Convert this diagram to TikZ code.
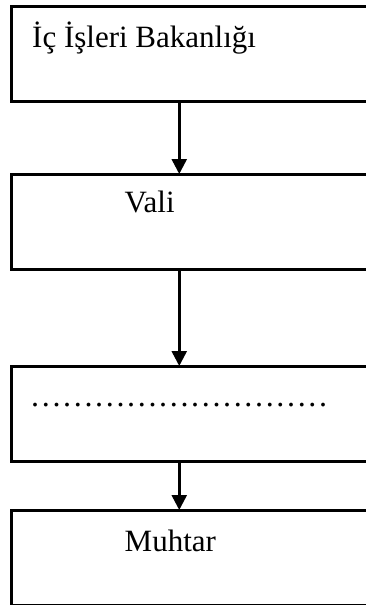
\documentclass[tikz,border=0pt]{standalone}
\usepackage{fontspec}
\setmainfont{Liberation Serif}
\usetikzlibrary{arrows.meta}
\tikzset{
  box/.style={draw=black, line width=2.5pt, rectangle, minimum width=370pt, minimum height=95pt, anchor=north west, inner sep=0pt},
  lbl/.style={anchor=base west, inner sep=0pt, font=\fontsize{31}{37}\selectfont},
  arr/.style={line width=2.5pt, -{Triangle[width=15pt,length=15pt]}, shorten >=-1pt}
}
\begin{document}
\begin{tikzpicture}[x=1pt,y=-1pt]
\useasboundingbox (0,0) rectangle (366,605);
\fill[white] (0,0) rectangle (366,605);
\clip (0,0) rectangle (366,605);
\node[box] (b1) at (10,5) {};
\node[box] (b2) at (10,173) {};
\node[box] (b3) at (10,365) {};
\node[box] (b4) at (10,509) {};
\node[lbl] (t1) at (32,47) {İç İşleri Bakanlığı};
\node[lbl] (t2) at (124.5,212.5) {Vali};
\node[lbl] (t3) at (31,406) {\fontsize{32}{38}\selectfont\addfontfeature{LetterSpace=8.33}..........................{}..};
\node[lbl] (t4) at (124.5,551) {Muhtar};
\draw[arr] ([xshift=-17pt]b1.south) -- ([xshift=-17pt]b2.north);
\draw[arr] ([xshift=-17pt]b2.south) -- ([xshift=-17pt]b3.north);
\draw[arr] ([xshift=-17pt]b3.south) -- ([xshift=-17pt]b4.north);
\end{tikzpicture}
\end{document}
